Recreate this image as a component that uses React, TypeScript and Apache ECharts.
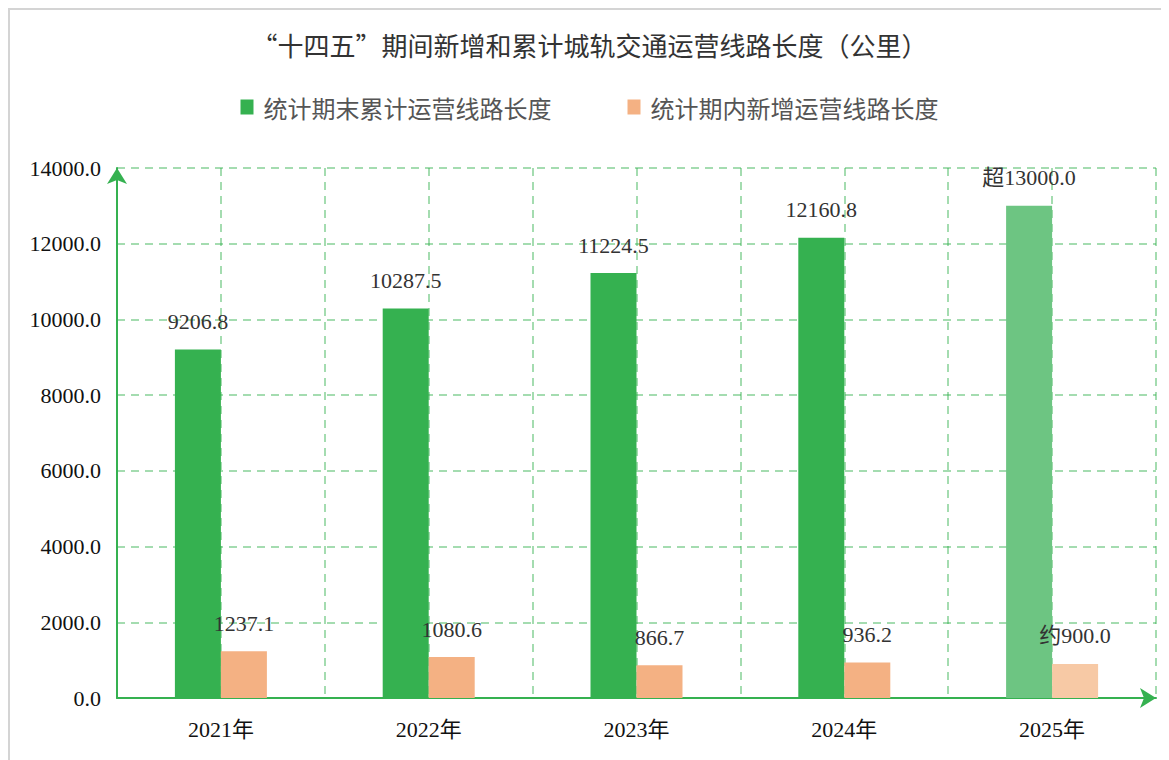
import React, { useEffect, useRef } from "react";
import * as echarts from "echarts";

const categories = ["2021年", "2022年", "2023年", "2024年", "2025年"];
const totalLength = [9206.8, 10287.5, 11224.5, 12160.8, 13000.0];
const newLength = [1237.1, 1080.6, 866.7, 936.2, 900.0];
const totalPrefix = ["", "", "", "", "超"];
const newPrefix = ["", "", "", "", "约"];
const seriesNames = ["统计期末累计运营线路长度", "统计期内新增运营线路长度"];
const titleText = "“十四五”期间新增和累计城轨交通运营线路长度（公里）";

const GREEN = "#35b150";
const GREEN_LIGHT = "#6dc582";
const ORANGE = "#f4b183";
const ORANGE_LIGHT = "#f7c9a5";
const GRID_COLOR = "rgba(53,177,80,0.45)";
const SERIF = "'Liberation Serif', 'Times New Roman', 'Noto Sans CJK SC', serif";

export default function App() {
  const ref = useRef<HTMLDivElement>(null);
  useEffect(() => {
    if (!ref.current) return;
    const chart = echarts.init(ref.current, null, { renderer: "svg" });
    const labelCommon = {
      show: true,
      position: "top",
      distance: 17,
      fontFamily: SERIF,
      fontSize: 22,
      color: "#333",
    };
    chart.setOption({
      animation: false,
      title: {
        text: titleText,
        left: "center",
        top: 16,
        textStyle: {
          fontFamily: "'Noto Sans CJK SC', sans-serif",
          fontWeight: "normal",
          fontSize: 26,
          color: "#333",
        },
      },
      legend: {
        top: 80,
        left: "center",
        itemWidth: 13,
        itemHeight: 15,
        itemGap: 76,
        icon: "rect",
        data: seriesNames,
        textStyle: {
          fontFamily: "'Noto Sans CJK SC', sans-serif",
          fontSize: 24,
          color: "#555",
          padding: [0, 0, 0, 5],
        },
      },
      grid: { left: 107, right: 13, top: 158, bottom: 62, containLabel: false },
      xAxis: [
        {
          type: "category",
          data: categories,
          axisLine: {
            show: true,
            lineStyle: { color: GREEN, width: 2 },
            symbol: ["none", "arrow"],
            symbolSize: [15, 16],
            symbolOffset: [0, 0],
          },
          axisTick: { show: false },
          axisLabel: {
            margin: 20,
            fontFamily: SERIF,
            fontSize: 22,
            color: "#111",
          },
          splitLine: { show: false },
        },
        {
          type: "value",
          min: 0,
          max: 10,
          interval: 1,
          position: "bottom",
          axisLine: { show: false },
          axisTick: { show: false },
          axisLabel: { show: false },
          splitLine: {
            show: true,
            lineStyle: { color: GRID_COLOR, type: [8, 6], width: 2 },
          },
        },
      ],
      yAxis: {
        type: "value",
        min: 0,
        max: 14000,
        interval: 2000,
        axisLine: {
          show: true,
          lineStyle: { color: GREEN, width: 2 },
          symbol: ["none", "arrow"],
          symbolSize: [15, 16],
          symbolOffset: [0, 0],
        },
        axisTick: { show: false },
        axisLabel: {
          margin: 16,
          fontFamily: SERIF,
          fontSize: 22,
          color: "#111",
          formatter: (v: number) => v.toFixed(1),
        },
        splitLine: {
          show: true,
          lineStyle: { color: GRID_COLOR, type: [8, 6], width: 2 },
        },
      },
      series: [
        {
          name: seriesNames[0],
          type: "bar",
          xAxisIndex: 0,
          barWidth: 46,
          barGap: "0%",
          itemStyle: { color: GREEN },
          data: totalLength.map((v, i) => ({
            value: v,
            itemStyle: { color: i === 4 ? GREEN_LIGHT : GREEN },
          })),
          label: {
            ...labelCommon,
            formatter: (p: any) => totalPrefix[p.dataIndex] + Number(p.value).toFixed(1),
          },
        },
        {
          name: seriesNames[1],
          type: "bar",
          xAxisIndex: 0,
          barWidth: 46,
          barGap: "0%",
          itemStyle: { color: ORANGE },
          data: newLength.map((v, i) => ({
            value: v,
            itemStyle: { color: i === 4 ? ORANGE_LIGHT : ORANGE },
          })),
          label: {
            ...labelCommon,
            formatter: (p: any) => newPrefix[p.dataIndex] + Number(p.value).toFixed(1),
          },
        },
      ],
    });
    return () => chart.dispose();
  }, []);
  return (
    <div
      style={{
        borderTop: "2px solid #d4d4d4",
        borderLeft: "2px solid #d4d4d4",
        width: 1159,
        height: 750,
      }}
    >
      <div ref={ref} style={{ width: 1159, height: 750 }} />
    </div>
  );
}
